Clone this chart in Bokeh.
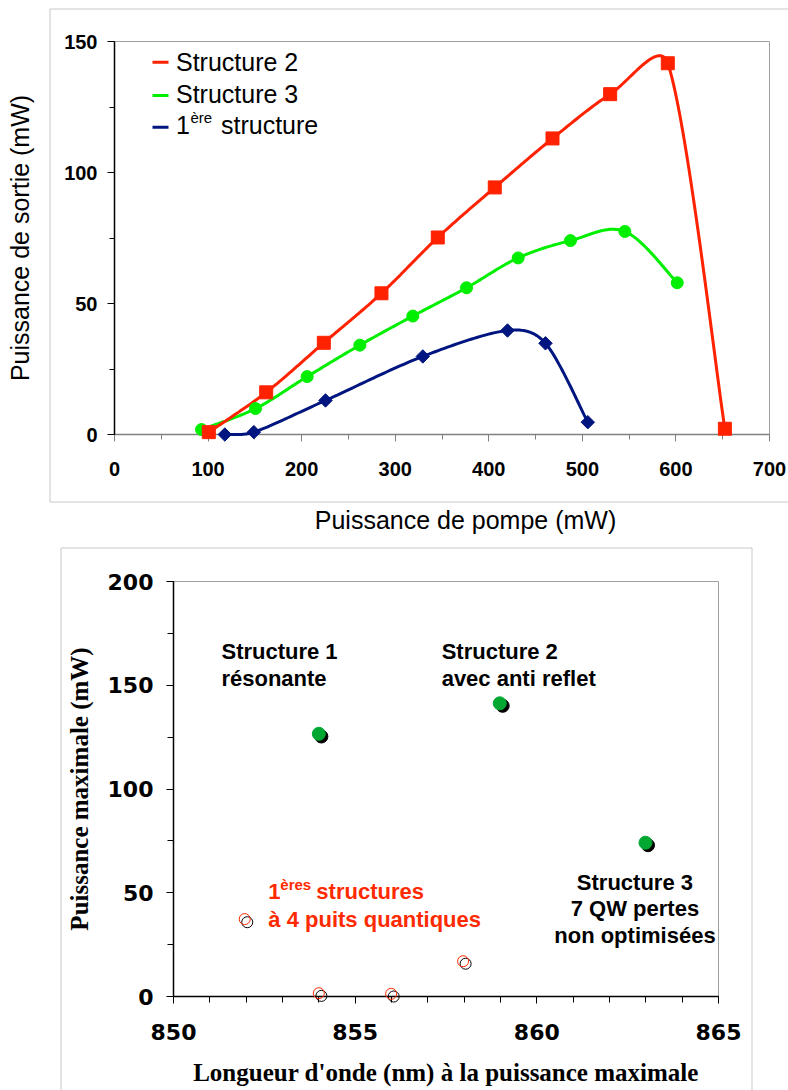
import numpy as np
from bokeh.plotting import figure
from bokeh.layouts import column
from bokeh.models import SingleIntervalTicker, Range1d
from bokeh.core.properties import value
from bokeh.embed import file_html
from bokeh.resources import INLINE

# ---------------- data : top chart (pump power -> output power) ----------------
pump_s2 = [100.8, 162.1, 223.7, 285.3, 345.5, 406.4, 468.1, 529.7, 591.3, 652.3]
out_s2 = [0.9, 16.1, 35.0, 53.9, 75.2, 94.3, 113.0, 129.9, 141.7, 2.2]
pump_s3 = [93.0, 150.7, 205.9, 262.2, 318.8, 376.2, 431.4, 487.3, 545.4, 601.4]
out_s3 = [1.9, 9.9, 22.1, 34.1, 45.2, 56.0, 67.4, 74.0, 77.5, 57.9]
pump_s1 = [117.9, 148.9, 225.5, 329.5, 420.0, 460.6, 505.8]
out_s1 = [0.0, 0.9, 13.0, 29.8, 39.7, 34.8, 4.7]
legend_labels = ["Structure 2", "Structure 3", "1", "ère", "structure"]

# ---------------- data : bottom chart (wavelength -> max power) ----------------
wl_main_green = [854.0, 858.98, 862.99]
pmax_main_green = [126.6, 141.3, 74.1]
wl_main_black = [854.07, 859.06, 863.06]
pmax_main_black = [125.3, 140.1, 72.9]
wl_first_red = [851.96, 854.0, 855.99, 857.97]
pmax_first_red = [37.3, 1.6, 1.3, 17.0]
wl_first_black = [852.03, 854.07, 856.06, 858.04]
pmax_first_black = [35.8, 0.3, 0.0, 15.8]

top_x_ticks = [0, 100, 200, 300, 400, 500, 600, 700]
top_y_ticks = [0, 50, 100, 150]
bot_x_ticks = [850, 855, 860, 865]
bot_y_ticks = [0, 50, 100, 150, 200]

# ---------------- layout constants (canvas pixels) ----------------
W, H1, H2 = 788, 540, 550
F1 = dict(left=114, right=769, top=41, bottom=434)
F2 = dict(left=173, right=718, top=41, bottom=456)
XR1, YR1 = (0, 700), (0, 150)
XR2, YR2 = (850, 865), (0, 200)
XS1 = (F1["right"] - F1["left"]) / (XR1[1] - XR1[0])
YS1 = (F1["bottom"] - F1["top"]) / (YR1[1] - YR1[0])
XS2 = (F2["right"] - F2["left"]) / (XR2[1] - XR2[0])
YS2 = (F2["bottom"] - F2["top"]) / (YR2[1] - YR2[0])
TDY = -8  # text baseline correction (px)

RED = "#ff2200"
GREEN = "#00ee00"
BLUE = "#00157f"
GREEN2 = "#00a832"
RED2 = "#ff2a00"


def c1x(cx):  # canvas px -> data, top figure
    return XR1[0] + (cx - F1["left"]) / XS1


def c1y(cy):
    return YR1[0] + (F1["bottom"] - cy) / YS1


def c2x(cx):
    return XR2[0] + (cx - F2["left"]) / XS2


def c2y(cy):
    return YR2[0] + (F2["bottom"] - cy) / YS2


def smooth(xs, ys, sx, sy, n=30):
    """Excel-like smoothed line (Bezier through the points)."""
    P = np.column_stack([np.asarray(xs, float) * sx, np.asarray(ys, float) * sy])
    m = len(P)
    out = [P[0]]
    ts = np.linspace(0, 1, n + 1)[1:]
    for i in range(m - 1):
        p0 = P[max(i - 1, 0)]
        p1 = P[i]
        p2 = P[i + 1]
        p3 = P[min(i + 2, m - 1)]
        d = np.linalg.norm(p2 - p1)
        t1 = (p2 - p0) / 6.0
        t2 = (p3 - p1) / 6.0
        l1, l2 = np.linalg.norm(t1), np.linalg.norm(t2)
        cap = 0.4 * d
        if l1 > cap:
            t1 = t1 * cap / l1
        if l2 > cap:
            t2 = t2 * cap / l2
        c1 = p1 + t1
        c2 = p2 - t2
        B = (((1 - ts) ** 3)[:, None] * p1 + (3 * (1 - ts) ** 2 * ts)[:, None] * c1
             + (3 * (1 - ts) * ts ** 2)[:, None] * c2 + (ts ** 3)[:, None] * p2)
        out.extend(B)
    out = np.array(out)
    return out[:, 0] / sx, out[:, 1] / sy


# ================= TOP FIGURE =================
p1 = figure(width=W, height=H1, x_range=Range1d(*XR1), y_range=Range1d(*YR1),
            output_backend="svg", toolbar_location=None,
            min_border_left=F1["left"], min_border_right=W - F1["right"],
            min_border_top=F1["top"], min_border_bottom=H1 - F1["bottom"])
p1.frame_align = False
p1.grid.visible = False
p1.background_fill_color = "white"
p1.border_fill_color = "white"
p1.outline_line_color = "#a0a0a0"
p1.outline_line_width = 1

p1.xaxis.ticker = SingleIntervalTicker(interval=100, num_minor_ticks=2)
p1.yaxis.ticker = SingleIntervalTicker(interval=50, num_minor_ticks=2)
for ax in (p1.xaxis[0], p1.yaxis[0]):
    ax.major_label_text_font = "Liberation Sans"
    ax.major_label_text_font_style = "bold"
    ax.major_label_text_font_size = "20px"
    ax.major_label_text_color = "black"
    ax.major_tick_in = 0
    ax.minor_tick_in = 0
    ax.major_tick_out = 7
    ax.minor_tick_out = 5
    ax.axis_line_width = 1.5
p1.xaxis.axis_line_color = "#808080"
p1.xaxis.major_tick_line_color = "#808080"
p1.xaxis.minor_tick_line_color = "#808080"
p1.yaxis.axis_line_color = "black"
p1.xaxis.major_label_standoff = 20
p1.yaxis.major_label_standoff = 10
p1.yaxis.axis_label = "Puissance de sortie (mW)"
p1.yaxis.axis_label_text_font = "Liberation Sans"
p1.yaxis.axis_label_text_font_style = "normal"
p1.yaxis.axis_label_text_font_size = "25px"
p1.yaxis.axis_label_text_color = "black"
p1.yaxis.axis_label_standoff = 27

# outer chart border (light grey)
p1.line([c1x(W + 5), c1x(49.5), c1x(49.5), c1x(W + 5)],
        [c1y(8.5), c1y(8.5), c1y(501.5), c1y(501.5)],
        line_color="#c8c8c8", line_width=1, level="overlay")

# smoothed curves
for xs, ys, col in ((pump_s1, out_s1, BLUE), (pump_s3, out_s3, GREEN), (pump_s2, out_s2, RED)):
    sxs, sys_ = smooth(xs, ys, XS1, YS1)
    p1.line(sxs, sys_, line_color=col, line_width=3, level="overlay")

p1.scatter(pump_s1, out_s1, marker="square", angle=np.pi / 4, size=9.5,
           fill_color=BLUE, line_color=BLUE, level="overlay")
p1.scatter(pump_s3, out_s3, marker="circle", size=12,
           fill_color=GREEN, line_color=GREEN, level="overlay")
p1.scatter(pump_s2, out_s2, marker="square", size=13,
           fill_color=RED, line_color=RED, level="overlay")

# legend (frame-relative pixel placement)
leg_rows = [20.7, 54.0, 85.7]
leg_base = [28.0, 60.7, 91.7]
for ry, col in zip(leg_rows, (RED, GREEN, BLUE)):
    p1.segment(x0=[c1x(F1["left"] + 38)], y0=[c1y(F1["top"] + ry)],
               x1=[c1x(F1["left"] + 54)], y1=[c1y(F1["top"] + ry)],
               line_color=col, line_width=3)
tx = c1x(F1["left"] + 61.5)
p1.text(x=[tx, tx, tx], y=[c1y(F1["top"] + b) for b in leg_base],
        text=[legend_labels[0], legend_labels[1], legend_labels[2]],
        y_offset=TDY,
        text_font=value("Liberation Sans"), text_font_size=value("25px"),
        text_color="black", text_align="left", text_baseline="alphabetic")
p1.text(x=[tx], y=[c1y(F1["top"] + leg_base[2])], text=[legend_labels[3]],
        x_offset=14.5, y_offset=TDY - 8,
        text_font=value("Liberation Sans"), text_font_size=value("15px"),
        text_color="black", text_align="left", text_baseline="alphabetic")
p1.text(x=[tx], y=[c1y(F1["top"] + leg_base[2])], text=[legend_labels[4]],
        x_offset=45, y_offset=TDY,
        text_font=value("Liberation Sans"), text_font_size=value("25px"),
        text_color="black", text_align="left", text_baseline="alphabetic")

# x-axis title (offset to the right of the frame centre as in the original)
p1.text(x=[c1x(465)], y=[c1y(527)], text=["Puissance de pompe (mW)"],
        y_offset=TDY,
        text_font=value("Liberation Sans"), text_font_size=value("25px"),
        text_color="black", text_align="center", text_baseline="alphabetic",
        level="overlay")

# ================= BOTTOM FIGURE =================
p2 = figure(width=W, height=H2, x_range=Range1d(*XR2), y_range=Range1d(*YR2),
            output_backend="svg", toolbar_location=None,
            min_border_left=F2["left"], min_border_right=W - F2["right"],
            min_border_top=F2["top"], min_border_bottom=H2 - F2["bottom"])
p2.frame_align = False
p2.grid.visible = False
p2.background_fill_color = "white"
p2.border_fill_color = "white"
p2.outline_line_color = "#a0a0a0"
p2.outline_line_width = 1

p2.xaxis.ticker = SingleIntervalTicker(interval=5, num_minor_ticks=5)
p2.yaxis.ticker = SingleIntervalTicker(interval=50, num_minor_ticks=2)
for ax in (p2.xaxis[0], p2.yaxis[0]):
    ax.major_label_text_font = "DejaVu Sans"
    ax.major_label_text_font_style = "bold"
    ax.major_label_text_font_size = "22px"
    ax.major_label_text_color = "black"
    ax.major_tick_in = 0
    ax.minor_tick_in = 0
    ax.major_tick_out = 7
    ax.minor_tick_out = 6
    ax.axis_line_width = 1.5
    ax.axis_line_color = "black"
    ax.axis_label_text_font = "Liberation Serif"
    ax.axis_label_text_font_style = "bold"
    ax.axis_label_text_font_size = "25px"
    ax.axis_label_text_color = "black"
p2.xaxis.major_label_standoff = 20
p2.yaxis.major_label_standoff = 13
p2.yaxis.axis_label = "Puissance maximale (mW)"
p2.yaxis.axis_label_standoff = 12
p2.xaxis.axis_label = "Longueur d'onde (nm) à la puissance maximale"
p2.xaxis.axis_label_standoff = 16

# outer chart border
p2.line([c2x(60.5), c2x(60.5), c2x(751.5), c2x(751.5)],
        [c2y(H2 + 5), c2y(7.5), c2y(7.5), c2y(H2 + 5)],
        line_color="#c8c8c8", line_width=1, level="overlay")

p2.scatter(wl_main_black, pmax_main_black, marker="circle", size=13,
           fill_color="black", line_color="black", level="overlay")
p2.scatter(wl_main_green, pmax_main_green, marker="circle", size=13,
           fill_color=GREEN2, line_color=GREEN2, level="overlay")
p2.scatter(wl_first_black, pmax_first_black, marker="circle", size=11,
           fill_color=None, line_color="black", line_width=1, level="overlay")
p2.scatter(wl_first_red, pmax_first_red, marker="circle", size=11,
           fill_color=None, line_color=RED2, line_width=1, level="overlay")

# annotations
notes_left = ["Structure 1", "résonante", "Structure 2", "avec anti reflet"]
notes_left_x = [851.32, 851.32, 857.38, 857.38]
notes_left_y = [162.4, 149.5, 162.4, 149.5]
p2.text(x=notes_left_x, y=notes_left_y, text=notes_left, y_offset=TDY,
        text_font=value("Liberation Sans"), text_font_size=value("22px"),
        text_font_style="bold", text_color="black",
        text_align="left", text_baseline="alphabetic")
notes_s3 = ["Structure 3", "7 QW pertes", "non optimisées"]
p2.text(x=[862.70] * 3, y=[51.1, 38.6, 25.7], text=notes_s3, y_offset=TDY,
        text_font=value("Liberation Sans"), text_font_size=value("22px"),
        text_font_style="bold", text_color="black",
        text_align="center", text_baseline="alphabetic")
red_x, red_y1, red_y2 = 852.61, 46.6, 33.4
p2.text(x=[red_x, red_x], y=[red_y1, red_y2], text=["1", "à 4 puits quantiques"],
        y_offset=TDY,
        text_font=value("Liberation Sans"), text_font_size=value("22px"),
        text_font_style="bold", text_color=RED2,
        text_align="left", text_baseline="alphabetic")
p2.text(x=[red_x], y=[red_y1], text=["ères"], x_offset=12, y_offset=TDY - 7,
        text_font=value("Liberation Sans"), text_font_size=value("15px"),
        text_font_style="bold", text_color=RED2,
        text_align="left", text_baseline="alphabetic")
p2.text(x=[red_x], y=[red_y1], text=["structures"], x_offset=48, y_offset=TDY,
        text_font=value("Liberation Sans"), text_font_size=value("22px"),
        text_font_style="bold", text_color=RED2,
        text_align="left", text_baseline="alphabetic")

layout = column(p1, p2)
open("out.html", "w").write(file_html(layout, INLINE))
